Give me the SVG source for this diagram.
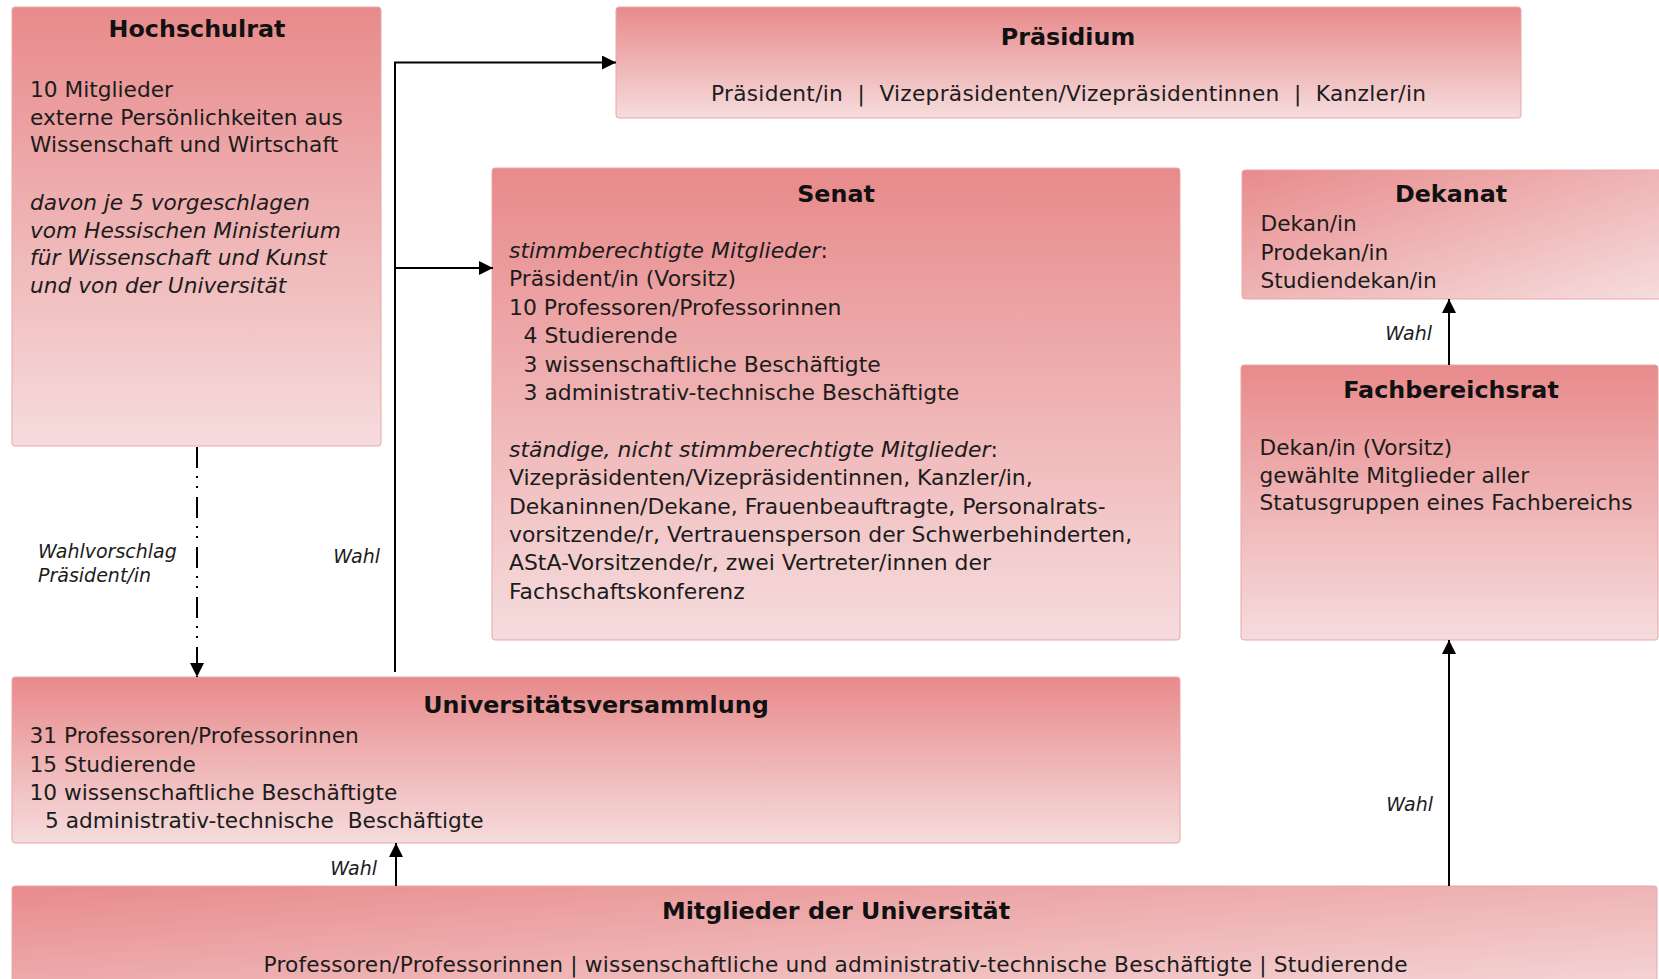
<svg xmlns="http://www.w3.org/2000/svg" width="1659" height="979" viewBox="0 0 1659 979">
<style>
.box{stroke:#E7A8AA;stroke-width:1}
.t{font-family:"DejaVu Sans",Verdana,sans-serif;font-size:21.7px;fill:#1c1c1c}
.s{font-size:21.9px}
.h{font-family:"DejaVu Sans",Verdana,sans-serif;font-size:23.8px;font-weight:bold;text-anchor:middle;fill:#111}
.i{font-style:italic}
.lbl{font-family:"DejaVu Sans",Verdana,sans-serif;font-size:19px;font-style:italic;fill:#1c1c1c}
.con{fill:none;stroke:#000;stroke-width:2}
</style>
<defs>
<linearGradient id="gv" x1="0" y1="0" x2="0" y2="1">
<stop offset="0" stop-color="#E88A8B"/>
<stop offset="1" stop-color="#F6DCDD"/>
</linearGradient>
<linearGradient id="gd" x1="0" y1="0" x2="1" y2="1">
<stop offset="0" stop-color="#E88B8C"/>
<stop offset="1" stop-color="#F6DEDF"/>
</linearGradient>
<marker id="ah" markerUnits="userSpaceOnUse" markerWidth="14" markerHeight="14" viewBox="0 0 14 14" refX="14" refY="7" orient="auto">
<path d="M0,0 L14,7 L0,14 z" fill="#000"/>
</marker>
</defs>

<g id="hochschulrat">
<rect class="box" x="12" y="7" width="369" height="439" rx="3" fill="url(#gv)"/>
<text class="h" x="197" y="37">Hochschulrat</text>
<text class="t" x="30" y="97">10 Mitglieder</text>
<text class="t" x="30" y="124.5">externe Persönlichkeiten aus</text>
<text class="t" x="30" y="152">Wissenschaft und Wirtschaft</text>
<text class="t i" x="30" y="210">davon je 5 vorgeschlagen</text>
<text class="t i" x="30" y="237.5">vom Hessischen Ministerium</text>
<text class="t i" x="30" y="265">für Wissenschaft und Kunst</text>
<text class="t i" x="30" y="293">und von der Universität</text>
</g>

<g id="praesidium">
<rect class="box" x="616" y="7" width="905" height="111" rx="3" fill="url(#gv)"/>
<text class="h" x="1068" y="45">Präsidium</text>
<text class="t" x="711" y="101" textLength="715" lengthAdjust="spacing" xml:space="preserve">Präsident/in  |  Vizepräsidenten/Vizepräsidentinnen  |  Kanzler/in</text>
</g>

<g id="senat">
<rect class="box" x="492" y="168" width="688" height="472" rx="3" fill="url(#gv)"/>
<text class="h" x="836" y="201.5">Senat</text>
<text class="t s" x="509" y="258"><tspan class="i">stimmberechtigte Mitglieder</tspan>:</text>
<text class="t s" x="509" y="286.4">Präsident/in (Vorsitz)</text>
<text class="t s" x="509" y="314.8">10 Professoren/Professorinnen</text>
<text class="t s" x="523.5" y="343.2">4 Studierende</text>
<text class="t s" x="523.5" y="371.6">3 wissenschaftliche Beschäftigte</text>
<text class="t s" x="523.5" y="400">3 administrativ-technische Beschäftigte</text>
<text class="t s" x="509" y="456.8"><tspan class="i">ständige, nicht stimmberechtigte Mitglieder</tspan>:</text>
<text class="t s" x="509" y="485.2">Vizepräsidenten/Vizepräsidentinnen, Kanzler/in,</text>
<text class="t s" x="509" y="513.6">Dekaninnen/Dekane, Frauenbeauftragte, Personalrats-</text>
<text class="t s" x="509" y="542">vorsitzende/r, Vertrauensperson der Schwerbehinderten,</text>
<text class="t s" x="509" y="570.4">AStA-Vorsitzende/r, zwei Vertreter/innen der</text>
<text class="t s" x="509" y="598.8">Fachschaftskonferenz</text>
</g>

<g id="dekanat">
<rect class="box" x="1242" y="170" width="430" height="129" rx="3" fill="url(#gd)"/>
<text class="h" x="1451" y="201.5">Dekanat</text>
<text class="t" x="1260.5" y="230.5">Dekan/in</text>
<text class="t" x="1260.5" y="259.5">Prodekan/in</text>
<text class="t" x="1260.5" y="288">Studiendekan/in</text>
</g>

<g id="fachbereichsrat">
<rect class="box" x="1241" y="365" width="417" height="275" rx="3" fill="url(#gv)"/>
<text class="h" x="1451" y="398">Fachbereichsrat</text>
<text class="t" x="1259.5" y="455">Dekan/in (Vorsitz)</text>
<text class="t" x="1259.5" y="482.5">gewählte Mitglieder aller</text>
<text class="t" x="1259.5" y="510">Statusgruppen eines Fachbereichs</text>
</g>

<g id="universitaetsversammlung">
<rect class="box" x="12" y="677" width="1168" height="166" rx="3" fill="url(#gv)"/>
<text class="h" x="596" y="713">Universitätsversammlung</text>
<text class="t" x="29.5" y="743">31 Professoren/Professorinnen</text>
<text class="t" x="29.5" y="771.5">15 Studierende</text>
<text class="t" x="29.5" y="800">10 wissenschaftliche Beschäftigte</text>
<text class="t" x="45" y="828" xml:space="preserve">5 administrativ-technische  Beschäftigte</text>
</g>

<g id="mitglieder">
<rect class="box" x="12" y="886" width="1645" height="130" rx="3" fill="url(#gd)"/>
<text class="h" x="836" y="919">Mitglieder der Universität</text>
<text class="t" x="263.5" y="971.5" textLength="1144" lengthAdjust="spacing">Professoren/Professorinnen | wissenschaftliche und administrativ-technische Beschäftigte | Studierende</text>
</g>

<g id="connectors">
<path class="con" d="M395,672 V62.5 H616" marker-end="url(#ah)"/>
<path class="con" d="M395,268 H493" marker-end="url(#ah)"/>
<path class="con" d="M197,447 V677" stroke-dasharray="21 8 2 8 2 9" marker-end="url(#ah)"/>
<path class="con" d="M396,886 V843" marker-end="url(#ah)"/>
<path class="con" d="M1449,886 V640" marker-end="url(#ah)"/>
<path class="con" d="M1449,365 V299" marker-end="url(#ah)"/>
<text class="lbl" x="38" y="558">Wahlvorschlag</text>
<text class="lbl" x="38" y="582">Präsident/in</text>
<text class="lbl" x="380" y="563" text-anchor="end">Wahl</text>
<text class="lbl" x="377" y="875" text-anchor="end">Wahl</text>
<text class="lbl" x="1433" y="811" text-anchor="end">Wahl</text>
<text class="lbl" x="1432" y="340" text-anchor="end">Wahl</text>
</g>
</svg>
